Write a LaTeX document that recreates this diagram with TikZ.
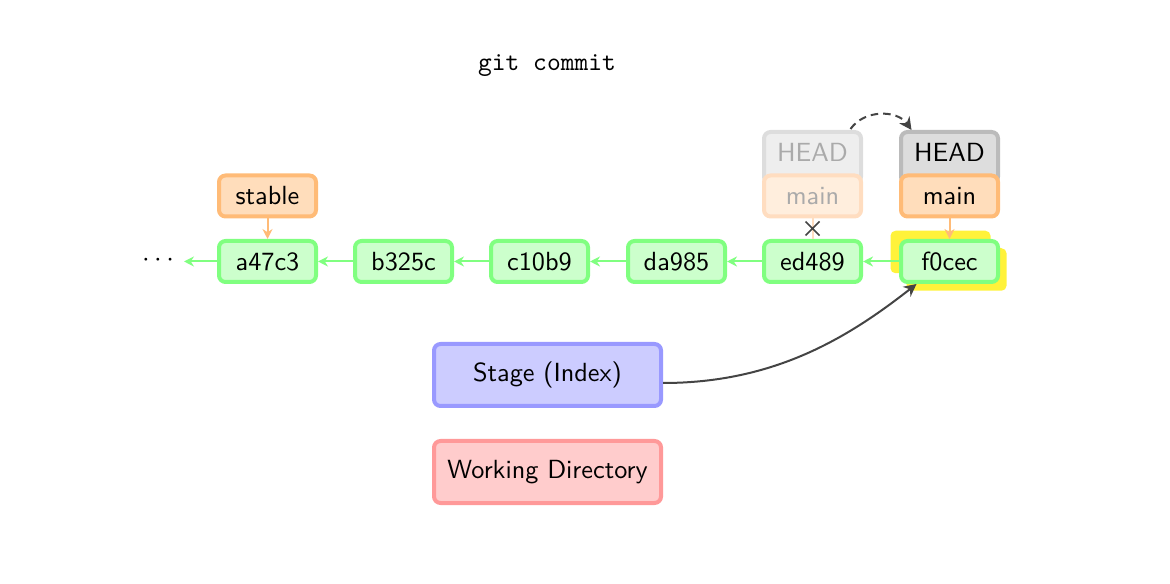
\documentclass[tikz,border=0pt]{standalone}
\usetikzlibrary{arrows.meta}
\definecolor{cfill}{HTML}{CCFFCC}
\definecolor{cdraw}{HTML}{80FF80}
\definecolor{bfill}{HTML}{FFDDBB}
\definecolor{bdraw}{HTML}{FFBB77}
\definecolor{hfill}{HTML}{DDDDDD}
\definecolor{hdraw}{HTML}{BBBBBB}
\definecolor{ofill}{HTML}{EEEEEE}
\definecolor{odraw}{HTML}{DDDDDD}
\definecolor{obfill}{HTML}{FFEEDD}
\definecolor{obdraw}{HTML}{FFDDC0}
\definecolor{otext}{HTML}{AAAAAA}
\definecolor{sfill}{HTML}{CCCCFF}
\definecolor{sdraw}{HTML}{9999FF}
\definecolor{wfill}{HTML}{FFCCCC}
\definecolor{wdraw}{HTML}{FF9999}
\definecolor{hl}{HTML}{FFF23A}
\definecolor{dark}{HTML}{444444}
\tikzset{
  box/.style={rectangle, rounded corners=2.6pt, line width=1.6pt, minimum width=38.8pt, minimum height=16.4pt, inner sep=0pt, font=\sffamily\fontsize{10.5}{12}\selectfont},
  tallbox/.style={box, minimum height=0pt, text height=12pt, text depth=8.4pt, anchor=base},
  commit/.style={box, fill=cfill, draw=cdraw},
  branch/.style={box, fill=bfill, draw=bdraw},
  headbox/.style={tallbox, fill=hfill, draw=hdraw},
  oldhead/.style={tallbox, fill=ofill, draw=odraw, text=otext},
  oldbranch/.style={box, fill=obfill, draw=obdraw, text=otext},
  area/.style={box, minimum width=90.8pt, minimum height=24.8pt},
  parent/.style={draw=cdraw, line width=0.8pt, -{Stealth[length=4pt,width=4pt]}},
  bref/.style={draw=bdraw, line width=0.8pt, -{Stealth[length=4pt,width=4pt]}},
  hlbox/.style={rectangle, rounded corners=2pt, fill=hl, minimum width=40pt, minimum height=17pt, inner sep=0pt},
  act/.style={draw=dark, line width=0.8pt, -{Stealth[length=5pt,width=5pt]}}
}
\begin{document}
\begin{tikzpicture}[x=0.4pt,y=-0.4pt]
\useasboundingbox (0,0) rectangle (1170,584);
\node[font=\ttfamily\fontsize{10.5}{12}\selectfont] (title) at (547,66) {git commit};
% highlight
\node[hlbox] (hl1) at (940.5,252) {};
\node[hlbox] (hl2) at (956.5,269.5) {};
% commits
\node[commit] (a) at (267.5,261.5) {a47c3};
\node[commit] (b) at (403.5,261.5) {b325c};
\node[commit] (c) at (539.5,261.5) {c10b9};
\node[commit] (d) at (676.5,261.5) {da985};
\node[commit] (e) at (812.5,261.5) {ed489};
\node[commit] (f) at (949.5,261.5) {f0cec};
\node[font=\fontsize{10.5}{12}\selectfont, inner sep=1pt] (dots) at (158,260) {$\cdots$};
% branches
\node[branch] (stable) at (267.5,196) {stable};
\node[oldhead] (ohead) at (812.5,162) {HEAD};
\node[oldbranch] (omain) at (812.5,196) {main};
\node[headbox] (head) at (949.5,162) {HEAD};
\node[branch] (main) at (949.5,196) {main};
% areas
\node[area, fill=sfill, draw=sdraw] (stage) at (547.5,375) {Stage (Index)};
\node[area, fill=wfill, draw=wdraw] (wd) at (547.5,472) {Working Directory};
% parent arrows
\coordinate (dotsend) at (184,261.5);
\draw[parent] (a.west) -- (dotsend);
\draw[parent] (b) -- (a);
\draw[parent] (c) -- (b);
\draw[parent] (d) -- (c);
\draw[parent] (e) -- (d);
\draw[parent] (f) -- (e);
% branch refs
\draw[bref] (stable) -- (a);
\draw[bref] (main) -- (f);
\draw[draw=obdraw, line width=0.8pt] (omain) -- (e);
\coordinate (x) at (812.5,228.5);
\draw[dark, line width=0.6pt] ([shift={(-7,-7)}]x) -- ([shift={(7,7)}]x) ([shift={(-7,7)}]x) -- ([shift={(7,-7)}]x);
% actions
\draw[act, dash pattern=on 3pt off 2pt] ([shift={(38,-1)}]ohead.north) .. controls +(14,-20) and +(-14,-20) .. ([shift={(-38,0)}]head.north);
\draw[act] ([shift={(0,8)}]stage.east) .. controls +(110,0) and +(-70,55) .. ([shift={(-33,0)}]f.south);
\end{tikzpicture}
\end{document}
